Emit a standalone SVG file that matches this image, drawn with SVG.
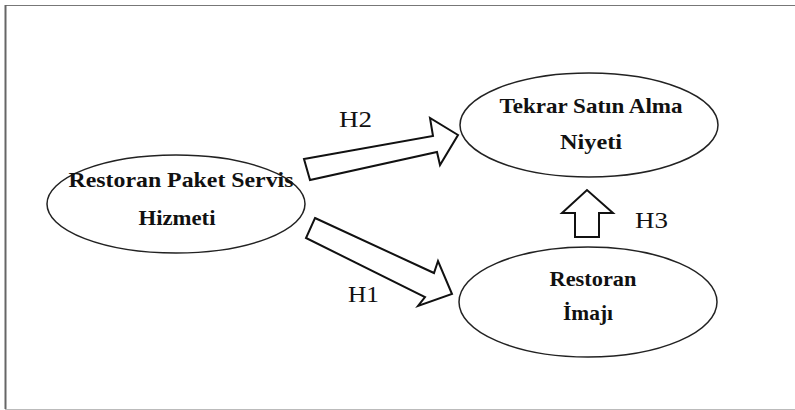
<svg xmlns="http://www.w3.org/2000/svg" width="795" height="410" viewBox="0 0 795 410">
<style>
.node ellipse{fill:#fff;stroke:#222;stroke-width:1.5}
.node text{font-family:"Liberation Serif","Times New Roman",serif;font-weight:bold;font-size:22px;fill:#111;text-anchor:middle}
.arrow{fill:#fff;stroke:#111;stroke-width:2;stroke-linejoin:miter}
.lbl{font-family:"Liberation Serif","Times New Roman",serif;font-size:23px;fill:#111}
</style>
<rect x="0" y="0" width="795" height="410" fill="#fff"/>
<g id="frame">
<line x1="5" y1="5.5" x2="795" y2="5.5" stroke="#777" stroke-width="1.2"/>
<line x1="5.5" y1="5" x2="5.5" y2="409" stroke="#666" stroke-width="2"/>
<line x1="5" y1="409.5" x2="795" y2="409.5" stroke="#bbb" stroke-width="1.2"/>
</g>
<g id="node-hizmet" class="node">
<ellipse cx="176" cy="204" rx="129" ry="49"/>
<text x="181" y="187" textLength="225" lengthAdjust="spacingAndGlyphs">Restoran Paket Servis</text>
<text x="177" y="225" textLength="77" lengthAdjust="spacingAndGlyphs">Hizmeti</text>
</g>
<g id="node-niyet" class="node">
<ellipse cx="589" cy="125" rx="129" ry="52"/>
<text x="591" y="113" textLength="183" lengthAdjust="spacingAndGlyphs">Tekrar Satın Alma</text>
<text x="591" y="149" textLength="62" lengthAdjust="spacingAndGlyphs">Niyeti</text>
</g>
<g id="node-imaj" class="node">
<ellipse cx="588" cy="302" rx="129" ry="55"/>
<text x="593" y="286" textLength="87" lengthAdjust="spacingAndGlyphs">Restoran</text>
<text x="588" y="320" textLength="50" lengthAdjust="spacingAndGlyphs">İmajı</text>
</g>
<g id="connectors">
<g id="h2">
<polygon class="arrow" points="304,159 433,136 430,118 458,135 440,165 437,152 310,180"/>
<text class="lbl" x="339" y="127" textLength="33" lengthAdjust="spacingAndGlyphs">H2</text>
</g>
<g id="h1">
<polygon class="arrow" points="315,218 434,273 438,261 452,294 418,306 425,297 306,238"/>
<text class="lbl" x="348" y="302" textLength="31" lengthAdjust="spacingAndGlyphs">H1</text>
</g>
<g id="h3">
<polygon class="arrow" points="575,237 575,213 562,213 587,190 613,213 599,213 599,237"/>
<text class="lbl" x="635" y="228" textLength="33" lengthAdjust="spacingAndGlyphs">H3</text>
</g>
</g>
</svg>
